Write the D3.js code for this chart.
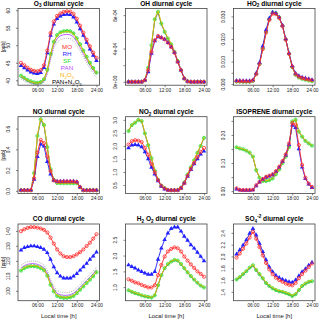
<!DOCTYPE html>
<html>
<head>
<meta charset="utf-8">
<script src="https://cdnjs.cloudflare.com/ajax/libs/d3/7.8.5/d3.min.js"></script>
<style>
  body { margin: 0; background: #fff; }
  text { font-family: "Liberation Sans", Arial, sans-serif; }
</style>
</head>
<body>
<div id="vis"></div>
<script>
// hours of the day
var hours = [1,2,3,4,5,6,7,8,9,10,11,12,13,14,15,16,17,18,19,20,21,22,23,24];
var xTicks = [6, 12, 18, 24];
var xTickLabels = ["06:00", "12:00", "18:00", "24:00"];

// O3 [ppb]
var o3_MO  = [45.0,44.3,43.6,43.0,42.7,42.6,42.9,44.3,48.5,53.5,56.8,58.4,59.1,59.5,59.7,59.6,59.0,57.6,55.6,53.6,51.6,49.7,47.9,46.4];
var o3_RH  = [44.2,43.5,42.9,42.3,42.0,41.9,42.2,43.6,47.8,52.8,56.0,57.6,58.3,58.7,58.8,58.7,58.0,56.6,54.7,52.8,50.8,48.9,47.1,45.6];
var o3_SF  = [41.3,40.7,40.1,39.7,39.4,39.3,39.5,40.3,43.0,47.5,51.0,52.9,53.7,54.0,54.1,54.0,53.4,52.0,50.3,48.5,46.7,45.0,43.5,42.2];
var o3_PAN = [40.9,40.3,39.7,39.3,39.0,38.9,39.1,39.8,42.3,46.6,50.1,51.9,52.7,53.0,53.1,53.0,52.4,51.0,49.4,47.6,45.9,44.3,42.9,41.7];
var o3_N2O5 = [41.2,40.6,40.0,39.6,39.3,39.2,39.4,40.2,42.9,47.3,50.8,52.7,53.5,53.8,53.9,53.8,53.2,51.8,50.1,48.3,46.5,44.8,43.3,42.0];
var o3_PANN2O5 = [40.4,39.8,39.3,39.0,38.8,38.8,38.9,39.4,41.6,45.7,49.1,50.9,51.6,51.9,52.0,51.9,51.3,50.0,48.4,46.7,45.0,43.4,42.0,40.8];

// OH
var oh_MO  = [0,0,0,0,0,2e-5,1.4e-4,3.6e-4,5.0e-4,5.5e-4,5.3e-4,5.1e-4,4.7e-4,4.2e-4,3.5e-4,2.4e-4,1.4e-4,4e-5,5e-6,0,0,0,0,0];
var oh_RH  = [0,0,0,0,0,2e-5,1.2e-4,3.4e-4,4.9e-4,5.4e-4,5.3e-4,5.1e-4,4.7e-4,4.2e-4,3.5e-4,2.4e-4,1.4e-4,4e-5,5e-6,0,0,0,0,0];
var oh_SF  = [0,0,0,0,0,2e-5,1.7e-4,4.4e-4,7.5e-4,8.4e-4,7.0e-4,6.0e-4,5.2e-4,4.5e-4,3.6e-4,2.5e-4,1.4e-4,4e-5,5e-6,0,0,0,0,0];
var oh_PAN = [0,0,0,0,0,2e-5,1.7e-4,4.4e-4,7.4e-4,8.3e-4,6.9e-4,6.0e-4,5.2e-4,4.5e-4,3.6e-4,2.5e-4,1.4e-4,4e-5,5e-6,0,0,0,0,0];
var oh_N2O5 = [0,0,0,0,0,2e-5,1.7e-4,4.5e-4,7.6e-4,8.5e-4,7.1e-4,6.1e-4,5.3e-4,4.6e-4,3.7e-4,2.5e-4,1.4e-4,4e-5,5e-6,0,0,0,0,0];
var oh_PANN2O5 = [0,0,0,0,0,2e-5,1.7e-4,4.4e-4,7.4e-4,8.3e-4,6.9e-4,6.0e-4,5.2e-4,4.5e-4,3.6e-4,2.5e-4,1.4e-4,4e-5,5e-6,0,0,0,0,0];

// HO2
var ho2_MO  = [0.0013,0.0013,0.0012,0.0012,0.0012,0.0016,0.0044,0.0088,0.0155,0.0228,0.0284,0.0312,0.0310,0.0293,0.0257,0.0197,0.0134,0.0077,0.0044,0.0033,0.0027,0.0023,0.0020,0.0017];
var ho2_RH  = [0.0015,0.0015,0.0014,0.0014,0.0014,0.0018,0.0048,0.0095,0.0168,0.0240,0.0292,0.0318,0.0314,0.0296,0.0260,0.0200,0.0137,0.0080,0.0047,0.0036,0.0030,0.0026,0.0023,0.0019];
var ho2_SF  = [0.0011,0.0011,0.0010,0.0010,0.0010,0.0014,0.0045,0.0090,0.0158,0.0232,0.0288,0.0318,0.0314,0.0296,0.0259,0.0198,0.0134,0.0075,0.0041,0.0029,0.0023,0.0019,0.0016,0.0013];
var ho2_PAN = [0.0011,0.0011,0.0010,0.0010,0.0010,0.0014,0.0045,0.0090,0.0157,0.0231,0.0287,0.0317,0.0313,0.0295,0.0258,0.0198,0.0134,0.0075,0.0041,0.0029,0.0023,0.0019,0.0016,0.0013];
var ho2_N2O5 = [0.0011,0.0011,0.0010,0.0010,0.0010,0.0014,0.0046,0.0091,0.0159,0.0233,0.0289,0.0319,0.0315,0.0297,0.0260,0.0199,0.0135,0.0076,0.0041,0.0029,0.0023,0.0019,0.0016,0.0013];
var ho2_PANN2O5 = [0.0011,0.0011,0.0010,0.0010,0.0010,0.0014,0.0045,0.0090,0.0157,0.0231,0.0287,0.0317,0.0313,0.0295,0.0258,0.0198,0.0134,0.0075,0.0041,0.0029,0.0023,0.0019,0.0016,0.0013];

// NO [ppb]
var no_MO  = [0.005,0.005,0.005,0.005,0.12,0.37,0.49,0.46,0.33,0.19,0.10,0.09,0.09,0.09,0.09,0.09,0.09,0.085,0.035,0.005,0.005,0.005,0.005,0.005];
var no_RH  = [0.005,0.005,0.005,0.005,0.11,0.33,0.45,0.43,0.28,0.16,0.10,0.09,0.09,0.09,0.09,0.09,0.09,0.085,0.035,0.005,0.005,0.005,0.005,0.005];
var no_SF  = [0.005,0.005,0.005,0.005,0.17,0.53,0.69,0.635,0.42,0.21,0.105,0.075,0.073,0.073,0.073,0.073,0.073,0.073,0.035,0.005,0.005,0.005,0.005,0.005];
var no_PAN = [0.005,0.005,0.005,0.005,0.17,0.52,0.68,0.63,0.42,0.21,0.105,0.075,0.073,0.073,0.073,0.073,0.073,0.073,0.035,0.005,0.005,0.005,0.005,0.005];
var no_N2O5 = [0.005,0.005,0.005,0.005,0.18,0.54,0.70,0.645,0.43,0.21,0.105,0.075,0.073,0.073,0.073,0.073,0.073,0.073,0.035,0.005,0.005,0.005,0.005,0.005];
var no_PANN2O5 = [0.005,0.005,0.005,0.005,0.17,0.52,0.68,0.63,0.42,0.21,0.105,0.075,0.073,0.073,0.073,0.073,0.073,0.073,0.035,0.005,0.005,0.005,0.005,0.005];

// NO2 [ppb]
var no2_MO  = [2.05,2.18,2.22,2.20,2.15,1.93,1.66,1.31,0.99,0.69,0.47,0.37,0.31,0.30,0.30,0.30,0.38,0.57,0.86,1.12,1.35,1.57,1.77,1.92];
var no2_RH  = [1.92,2.03,2.05,2.03,1.96,1.77,1.50,1.18,0.92,0.66,0.45,0.34,0.30,0.30,0.30,0.30,0.38,0.57,0.83,1.09,1.31,1.50,1.68,1.80];
var no2_SF  = [2.57,2.80,2.89,3.00,2.95,2.48,2.03,1.53,1.05,0.70,0.47,0.38,0.31,0.30,0.30,0.31,0.40,0.60,0.90,1.18,1.45,1.74,2.00,2.31];
var no2_PAN = [2.56,2.79,2.88,2.99,2.94,2.47,2.02,1.52,1.04,0.69,0.46,0.37,0.31,0.30,0.30,0.31,0.39,0.59,0.89,1.17,1.44,1.73,1.99,2.30];
var no2_N2O5 = [2.59,2.82,2.91,3.02,2.97,2.50,2.05,1.55,1.07,0.71,0.48,0.38,0.32,0.31,0.31,0.32,0.41,0.61,0.92,1.20,1.47,1.76,2.02,2.33];
var no2_PANN2O5 = [2.56,2.79,2.88,2.99,2.94,2.47,2.02,1.52,1.04,0.69,0.46,0.37,0.31,0.30,0.30,0.31,0.39,0.59,0.89,1.17,1.44,1.73,1.99,2.30];

// ISOPRENE [ppb]
var iso_MO  = [0.010,0.004,0.004,0.004,0.004,0.005,0.021,0.033,0.043,0.051,0.055,0.060,0.071,0.087,0.107,0.131,0.170,0.242,0.236,0.164,0.093,0.048,0.027,0.015];
var iso_RH  = [0.007,0.004,0.003,0.003,0.003,0.004,0.019,0.032,0.042,0.049,0.053,0.058,0.069,0.085,0.105,0.128,0.165,0.235,0.226,0.150,0.085,0.044,0.025,0.012];
var iso_SF  = [0.156,0.152,0.149,0.144,0.137,0.123,0.075,0.048,0.036,0.036,0.039,0.045,0.060,0.077,0.100,0.123,0.157,0.248,0.254,0.212,0.194,0.179,0.170,0.162];
var iso_PAN = [0.155,0.151,0.148,0.143,0.136,0.122,0.075,0.048,0.036,0.036,0.039,0.045,0.060,0.077,0.100,0.123,0.157,0.247,0.253,0.211,0.193,0.178,0.169,0.161];
var iso_N2O5 = [0.157,0.153,0.150,0.145,0.138,0.124,0.076,0.049,0.037,0.037,0.040,0.046,0.061,0.078,0.101,0.124,0.158,0.249,0.255,0.213,0.195,0.180,0.171,0.163];
var iso_PANN2O5 = [0.155,0.151,0.148,0.143,0.136,0.122,0.075,0.048,0.036,0.036,0.039,0.045,0.060,0.077,0.100,0.123,0.157,0.247,0.253,0.211,0.193,0.178,0.169,0.161];

// CO [ppb]
var co_MO  = [139.8,141.1,142.0,142.5,142.5,142.2,141.6,140.7,138.9,135.5,131.5,127.6,124.9,123.1,122.5,122.5,123.1,124.3,125.8,127.6,129.9,132.1,134.8,137.8];
var co_RH  = [127.2,128.8,129.4,129.9,129.9,129.4,128.8,127.6,125.4,120.9,116.0,111.9,109.7,108.5,108.5,108.5,109.7,111.5,113.7,116.0,118.2,120.9,123.1,125.8];
var co_SF  = [113.5,115.1,116.0,116.4,116.4,116.0,115.1,113.7,110.1,104.0,99.6,96.6,95.7,95.3,95.3,95.7,96.6,98.4,100.7,102.9,105.2,107.4,109.7,112.4];
var co_PAN = [115.2,116.8,117.7,118.1,118.1,117.7,116.8,115.4,111.8,105.7,101.3,98.3,97.4,97.0,97.0,97.4,98.3,100.1,102.4,104.6,106.9,109.1,111.4,114.1];
var co_N2O5 = [113.9,115.5,116.4,116.8,116.8,116.4,115.5,114.1,110.5,104.4,100.0,97.0,96.1,95.7,95.7,96.1,97.0,98.8,101.1,103.3,105.6,107.8,110.1,112.8];
var co_PANN2O5 = [117.0,118.6,119.5,119.9,119.9,119.5,118.6,117.2,113.6,107.5,103.1,100.1,99.2,98.8,98.8,99.2,100.1,101.9,104.2,106.4,108.7,110.9,113.2,115.9];

// H2O2 [ppb]
var h2o2_MO  = [1.25,1.20,1.15,1.12,1.07,1.03,0.99,0.99,1.06,1.38,1.70,1.97,2.13,2.21,2.26,2.23,2.13,1.97,1.84,1.72,1.61,1.50,1.42,1.33];
var h2o2_RH  = [1.70,1.65,1.60,1.54,1.49,1.44,1.40,1.40,1.49,1.88,2.23,2.50,2.71,2.85,2.90,2.90,2.77,2.61,2.48,2.34,2.23,2.10,1.97,1.83];
var h2o2_SF  = [0.90,0.85,0.81,0.78,0.74,0.71,0.69,0.67,0.74,1.06,1.38,1.60,1.73,1.81,1.86,1.84,1.73,1.60,1.47,1.35,1.24,1.14,1.05,0.99];
var h2o2_PAN = [0.89,0.84,0.80,0.77,0.73,0.70,0.68,0.66,0.73,1.05,1.37,1.59,1.72,1.80,1.85,1.83,1.72,1.59,1.46,1.34,1.23,1.13,1.04,0.98];
var h2o2_N2O5 = [0.91,0.86,0.82,0.79,0.75,0.72,0.70,0.68,0.75,1.07,1.39,1.61,1.74,1.82,1.87,1.85,1.74,1.61,1.48,1.36,1.25,1.15,1.06,1.00];
var h2o2_PANN2O5 = [0.89,0.84,0.80,0.77,0.73,0.70,0.68,0.66,0.73,1.05,1.37,1.59,1.72,1.80,1.85,1.83,1.72,1.59,1.46,1.34,1.23,1.13,1.04,0.98];

// SO4 [ppb]
var so4_MO  = [1.98,2.05,2.13,2.22,2.32,2.42,2.30,2.16,2.02,1.89,1.78,1.70,1.64,1.60,1.57,1.54,1.52,1.51,1.55,1.63,1.70,1.76,1.82,1.88];
var so4_RH  = [2.04,2.11,2.19,2.28,2.39,2.47,2.36,2.22,2.08,1.94,1.82,1.74,1.68,1.64,1.61,1.59,1.57,1.56,1.60,1.67,1.74,1.79,1.85,1.90];
var so4_SF  = [1.61,1.65,1.70,1.75,1.81,1.85,1.77,1.70,1.63,1.55,1.50,1.46,1.43,1.41,1.40,1.38,1.36,1.33,1.36,1.43,1.50,1.54,1.57,1.58];
var so4_PAN = [1.60,1.64,1.69,1.74,1.80,1.84,1.76,1.69,1.62,1.54,1.49,1.45,1.42,1.40,1.39,1.37,1.35,1.32,1.35,1.42,1.49,1.53,1.56,1.57];
var so4_N2O5 = [1.62,1.66,1.71,1.76,1.82,1.86,1.78,1.71,1.64,1.56,1.51,1.47,1.44,1.42,1.41,1.39,1.37,1.34,1.37,1.44,1.51,1.55,1.58,1.59];
var so4_PANN2O5 = [1.60,1.64,1.69,1.74,1.80,1.84,1.76,1.69,1.62,1.54,1.49,1.45,1.42,1.40,1.39,1.37,1.35,1.32,1.35,1.42,1.49,1.53,1.56,1.57];

// y tick values and labels
var o3_ticks = [40,45,50,55,60],  o3_labels = ["40","45","50","55","60"];
var oh_ticks = [0,2e-4,4e-4,6e-4,8e-4], oh_labels = ["0e+00","","4e-04","","8e-04"];
var ho2_ticks = [0,0.005,0.01,0.015,0.02,0.025,0.03], ho2_labels = ["0.000","","0.010","","0.020","","0.030"];
var no_ticks = [0,0.2,0.4,0.6], no_labels = ["0.0","0.2","0.4","0.6"];
var no2_ticks = [0.5,1,1.5,2,2.5,3], no2_labels = ["0.5","1.0","1.5","2.0","2.5","3.0"];
var iso_ticks = [0,0.05,0.1,0.15,0.2,0.25], iso_labels = ["0.00","","0.10","","0.20",""];
var co_ticks = [100,110,120,130,140], co_labels = ["100","110","120","130","140"];
var h2o2_ticks = [1,1.5,2,2.5], h2o2_labels = ["1.0","1.5","2.0","2.5"];
var so4_ticks = [1.4,1.6,1.8,2.0,2.2,2.4], so4_labels = ["1.4","1.6","1.8","2.0","2.2","2.4"];

// legend
var legendNames = [[["MO"]], [["RH"]], [["SF"]], [["PAN"]],
  [["N"],["2","sub"],["O"],["5","sub"]],
  [["PAN+N"],["2","sub"],["O"],["5","sub"]]];

// styles
var cRed = "#ff2a2a", cBlue = "#2222ff", cGreen = "#22dd22",
    cPan = "#b84dff", cN2o5 = "#ffb000", cSum = "#9a9a9a";
var legendColors = [cRed, cBlue, cGreen, cPan, cN2o5, "#000"];

var width = 320, height = 321;
var colLeft = [18, 125.5, 233.5], boxW = 81.5;
var rowTop = [8.5, 116.7, 224], boxH = 76.7;

var panels = [
  { title: [["O"],["3","sub"],[" diurnal cycle"]], s: [o3_MO,o3_RH,o3_SF,o3_PAN,o3_N2O5,o3_PANN2O5], ylim: [38.6,60.5], ticks: o3_ticks, labels: o3_labels, ylab: true, legend: true },
  { title: [["OH diurnal cycle"]], s: [oh_MO,oh_RH,oh_SF,oh_PAN,oh_N2O5,oh_PANN2O5], ylim: [-0.4e-4,8.8e-4], ticks: oh_ticks, labels: oh_labels },
  { title: [["HO"],["2","sub"],[" diurnal cycle"]], s: [ho2_MO,ho2_RH,ho2_SF,ho2_PAN,ho2_N2O5,ho2_PANN2O5], ylim: [-0.0005,0.0335], ticks: ho2_ticks, labels: ho2_labels },
  { title: [["NO diurnal cycle"]], s: [no_MO,no_RH,no_SF,no_PAN,no_N2O5,no_PANN2O5], ylim: [-0.025,0.715], ticks: no_ticks, labels: no_labels, ylab: true },
  { title: [["NO"],["2","sub"],["  diurnal cycle"]], s: [no2_MO,no2_RH,no2_SF,no2_PAN,no2_N2O5,no2_PANN2O5], ylim: [0.18,3.12], ticks: no2_ticks, labels: no2_labels },
  { title: [["ISOPRENE diurnal cycle"]], s: [iso_MO,iso_RH,iso_SF,iso_PAN,iso_N2O5,iso_PANN2O5], ylim: [-0.008,0.265], ticks: iso_ticks, labels: iso_labels },
  { title: [["CO diurnal cycle"]], s: [co_MO,co_RH,co_SF,co_PAN,co_N2O5,co_PANN2O5], ylim: [93.4,144.6], ticks: co_ticks, labels: co_labels, ylab: true, xlab: true },
  { title: [["H"],["2","sub"],[" O"],["2","sub"],["  diurnal cycle"]], s: [h2o2_MO,h2o2_RH,h2o2_SF,h2o2_PAN,h2o2_N2O5,h2o2_PANN2O5], ylim: [0.57,3.0], ticks: h2o2_ticks, labels: h2o2_labels, xlab: true },
  { title: [["SO"],["4","sub"],["-2","sup"],[" diurnal cycle"]], s: [so4_MO,so4_RH,so4_SF,so4_PAN,so4_N2O5,so4_PANN2O5], ylim: [1.25,2.55], ticks: so4_ticks, labels: so4_labels, xlab: true }
];

// text with sub/superscripts
function richText(sel, parts, size) {
  var shift = 0;
  parts.forEach(function(p) {
    var target = p[1] == "sub" ? size * 0.3 : (p[1] == "sup" ? -size * 0.4 : 0);
    var t = sel.append("tspan").text(p[0]).attr("dy", target - shift);
    if (p[1]) t.attr("font-size", size * 0.7);
    shift = target;
  });
}

var svg = d3.select("#vis").append("svg")
  .attr("width", width)
  .attr("height", height);

panels.forEach(function(p, i) {
  var c = i % 3, r = Math.floor(i / 3);
  var x = d3.scaleLinear().domain([0.08, 24.92]).range([colLeft[c], colLeft[c] + boxW]);
  var y = d3.scaleLinear().domain(p.ylim).range([rowTop[r] + boxH, rowTop[r]]);
  var g = svg.append("g");

  // x axis
  var xa = g.append("g")
    .attr("transform", "translate(0," + (rowTop[r] + boxH) + ")")
    .call(d3.axisBottom(x).tickValues(xTicks).tickSize(2).tickPadding(1.2)
      .tickFormat(function(d, k) { return xTickLabels[k]; }));
  xa.select(".domain").remove();
  xa.selectAll("line").attr("stroke", "#333").attr("stroke-width", 0.6);
  xa.selectAll("text").attr("font-size", 4.8).attr("fill", "#222").attr("font-family", null);

  // y axis, labels rotated like R
  var ya = g.append("g")
    .attr("transform", "translate(" + colLeft[c] + ",0)")
    .call(d3.axisLeft(y).tickValues(p.ticks).tickSize(2)
      .tickFormat(function(d, k) { return p.labels[k]; }));
  ya.select(".domain").remove();
  ya.selectAll("line").attr("stroke", "#333").attr("stroke-width", 0.6);
  ya.selectAll("text")
    .attr("font-size", 4.8).attr("fill", "#222").attr("font-family", null)
    .attr("x", 0).attr("y", -8.2).attr("dy", null)
    .attr("text-anchor", "middle")
    .attr("transform", "rotate(-90)");

  // series lines
  var line = d3.line()
    .x(function(d, k) { return x(hours[k]); })
    .y(function(d) { return y(d); });

  var pl = g.append("g");
  pl.append("path").datum(p.s[5]).attr("d", line).attr("fill", "none")
    .attr("stroke", cSum).attr("stroke-width", 0.8).attr("stroke-dasharray", "1,1.2");
  pl.append("path").datum(p.s[3]).attr("d", line).attr("fill", "none")
    .attr("stroke", cPan).attr("stroke-width", 0.9);
  pl.append("path").datum(p.s[2]).attr("d", line).attr("fill", "none")
    .attr("stroke", cGreen).attr("stroke-width", 0.9);
  // SF: circle with plus
  var sf = pl.selectAll(".sf").data(p.s[2]).enter().append("g")
    .attr("transform", function(d, k) { return "translate(" + x(hours[k]) + "," + y(d) + ")"; });
  sf.append("circle").attr("r", 1.6).attr("fill", "none").attr("stroke", cGreen).attr("stroke-width", 0.7);
  sf.append("path").attr("d", "M-1.6,0H1.6M0,-1.6V1.6").attr("stroke", cGreen).attr("stroke-width", 0.6);
  pl.append("path").datum(p.s[4]).attr("d", line).attr("fill", "none")
    .attr("stroke", cN2o5).attr("stroke-width", 0.8);

  // RH: filled triangles
  pl.append("path").datum(p.s[1]).attr("d", line).attr("fill", "none")
    .attr("stroke", cBlue).attr("stroke-width", 0.9);
  pl.selectAll(".rh").data(p.s[1]).enter().append("path")
    .attr("d", d3.symbol(d3.symbolTriangle).size(9))
    .attr("transform", function(d, k) { return "translate(" + x(hours[k]) + "," + y(d) + ")"; })
    .attr("fill", cBlue);

  // MO: open circles
  pl.append("path").datum(p.s[0]).attr("d", line).attr("fill", "none")
    .attr("stroke", cRed).attr("stroke-width", 0.9);
  pl.selectAll(".mo").data(p.s[0]).enter().append("circle")
    .attr("cx", function(d, k) { return x(hours[k]); })
    .attr("cy", function(d) { return y(d); })
    .attr("r", 1.6).attr("fill", "none").attr("stroke", cRed).attr("stroke-width", 0.8);

  // box
  g.append("rect")
    .attr("x", colLeft[c]).attr("y", rowTop[r])
    .attr("width", boxW).attr("height", boxH)
    .attr("fill", "none").attr("stroke", "#444").attr("stroke-width", 0.8);

  // title
  var tt = g.append("text")
    .attr("x", colLeft[c] + boxW / 2).attr("y", rowTop[r] - 3)
    .attr("text-anchor", "middle").attr("font-size", 6.6).attr("font-weight", "bold");
  richText(tt, p.title, 6.6);

  if (p.ylab) {
    g.append("text")
      .attr("transform", "translate(4.6," + (rowTop[r] + boxH / 2) + ") rotate(-90)")
      .attr("text-anchor", "middle").attr("font-size", 4.8).attr("fill", "#222")
      .text("[ppb]");
  }
  if (p.xlab) {
    g.append("text")
      .attr("x", colLeft[c] + boxW / 2).attr("y", 318)
      .attr("text-anchor", "middle").attr("font-size", 6).attr("fill", "#222")
      .text("Local time [h]");
  }

  if (p.legend) {
    var ly = [49.2, 56.2, 63.2, 70.2, 76.8, 84.2];
    legendNames.forEach(function(n, k) {
      var lt = g.append("text")
        .attr("x", 67).attr("y", ly[k])
        .attr("text-anchor", "middle").attr("font-size", 6.2)
        .attr("fill", legendColors[k]);
      richText(lt, n, 6.2);
    });
  }
});
</script>
</body>
</html>
